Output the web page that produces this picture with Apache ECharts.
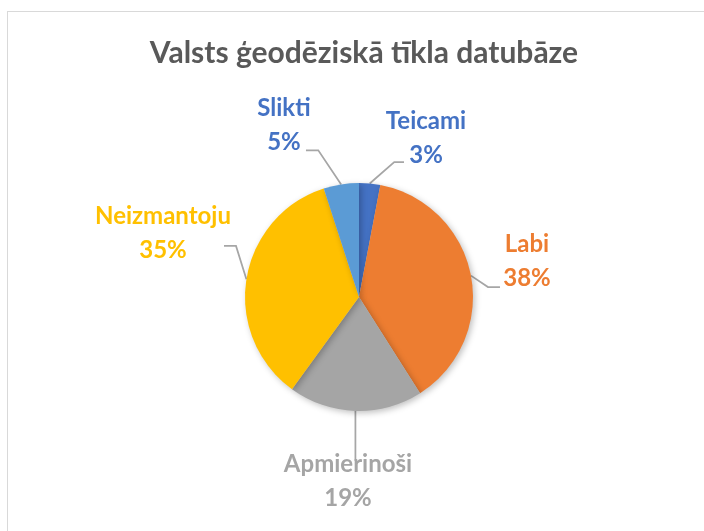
<!DOCTYPE html>
<html>
<head>
<meta charset="utf-8">
<script src="https://cdn.jsdelivr.net/npm/echarts@6/dist/echarts.min.js"></script>
<style>
html, body { margin: 0; padding: 0; background: #fff; }
#main { position: absolute; left: 7px; top: 11px; width: 720px; height: 540px; border: 1px solid #d9d9d9; box-sizing: border-box; }
</style>
</head>
<body>
<div id="main"></div>
<script>
var categories = ['Teicami', 'Labi', 'Apmierinoši', 'Neizmantoju', 'Slikti'];
var values = [3, 38, 19, 35, 5];
var colors = ['#4472C4', '#ED7D31', '#A5A5A5', '#FFC000', '#5B9BD5'];
var labelColors = ['#4472C4', '#ED7D31', '#A5A5A5', '#FFC000', '#4472C4'];

// label placement, relative to the point where the leader line leaves the slice
var leaderElbow = [[24.5, -21.5], [17, 11.4], [0, 50], [-10.4, -33.2], [-22.9, -34.1]];
var leaderEnd = [[34.3, -21.5], [29, 11.4], [0, 50], [-22.4, -33.2], [-35.2, -34.1]];
var labelCenter = [[56.3, -45], [56, -14], [-7.4, 70], [-83.4, -45.7], [-57.2, -59.4]];

var myChart = echarts.init(document.getElementById('main'));
var data = categories.map(function (c, i) {
    return {
        name: c,
        value: values[i],
        itemStyle: { color: colors[i] },
        label: { color: labelColors[i] }
    };
});
var option = {
    title: {
        text: 'Valsts ģeodēziskā tīkla datubāze',
        left: 351,
        top: 21,
        textAlign: 'center',
        textStyle: { fontFamily: 'Lato', fontWeight: 'bold', fontSize: 30, color: '#595959' }
    },
    series: [{
        type: 'pie',
        center: [351, 285],
        radius: 114,
        startAngle: 90,
        clockwise: true,
        data: data,
        itemStyle: {
            shadowBlur: 6,
            shadowOffsetX: 2,
            shadowOffsetY: 2,
            shadowColor: 'rgba(0,0,0,0.25)'
        },
        label: {
            show: true,
            formatter: '{b}\n{d}%',
            fontFamily: 'Lato',
            fontWeight: 'bold',
            fontSize: 24,
            lineHeight: 34
        },
        labelLine: {
            length: 20,
            length2: 12,
            lineStyle: { color: '#A6A6A6', width: 1.75 }
        },
        labelLayout: function (params) {
            var i = params.dataIndex;
            var p0 = params.labelLinePoints[0];
            return {
                x: p0[0] + labelCenter[i][0],
                y: p0[1] + labelCenter[i][1],
                align: 'center',
                verticalAlign: 'middle',
                labelLinePoints: [
                    [p0[0], p0[1]],
                    [p0[0] + leaderElbow[i][0], p0[1] + leaderElbow[i][1]],
                    [p0[0] + leaderEnd[i][0], p0[1] + leaderEnd[i][1]]
                ]
            };
        },
        emphasis: { disabled: true }
    }]
};
myChart.setOption(option);
window.addEventListener('resize', function () {
    myChart.resize();
});
</script>
</body>
</html>
